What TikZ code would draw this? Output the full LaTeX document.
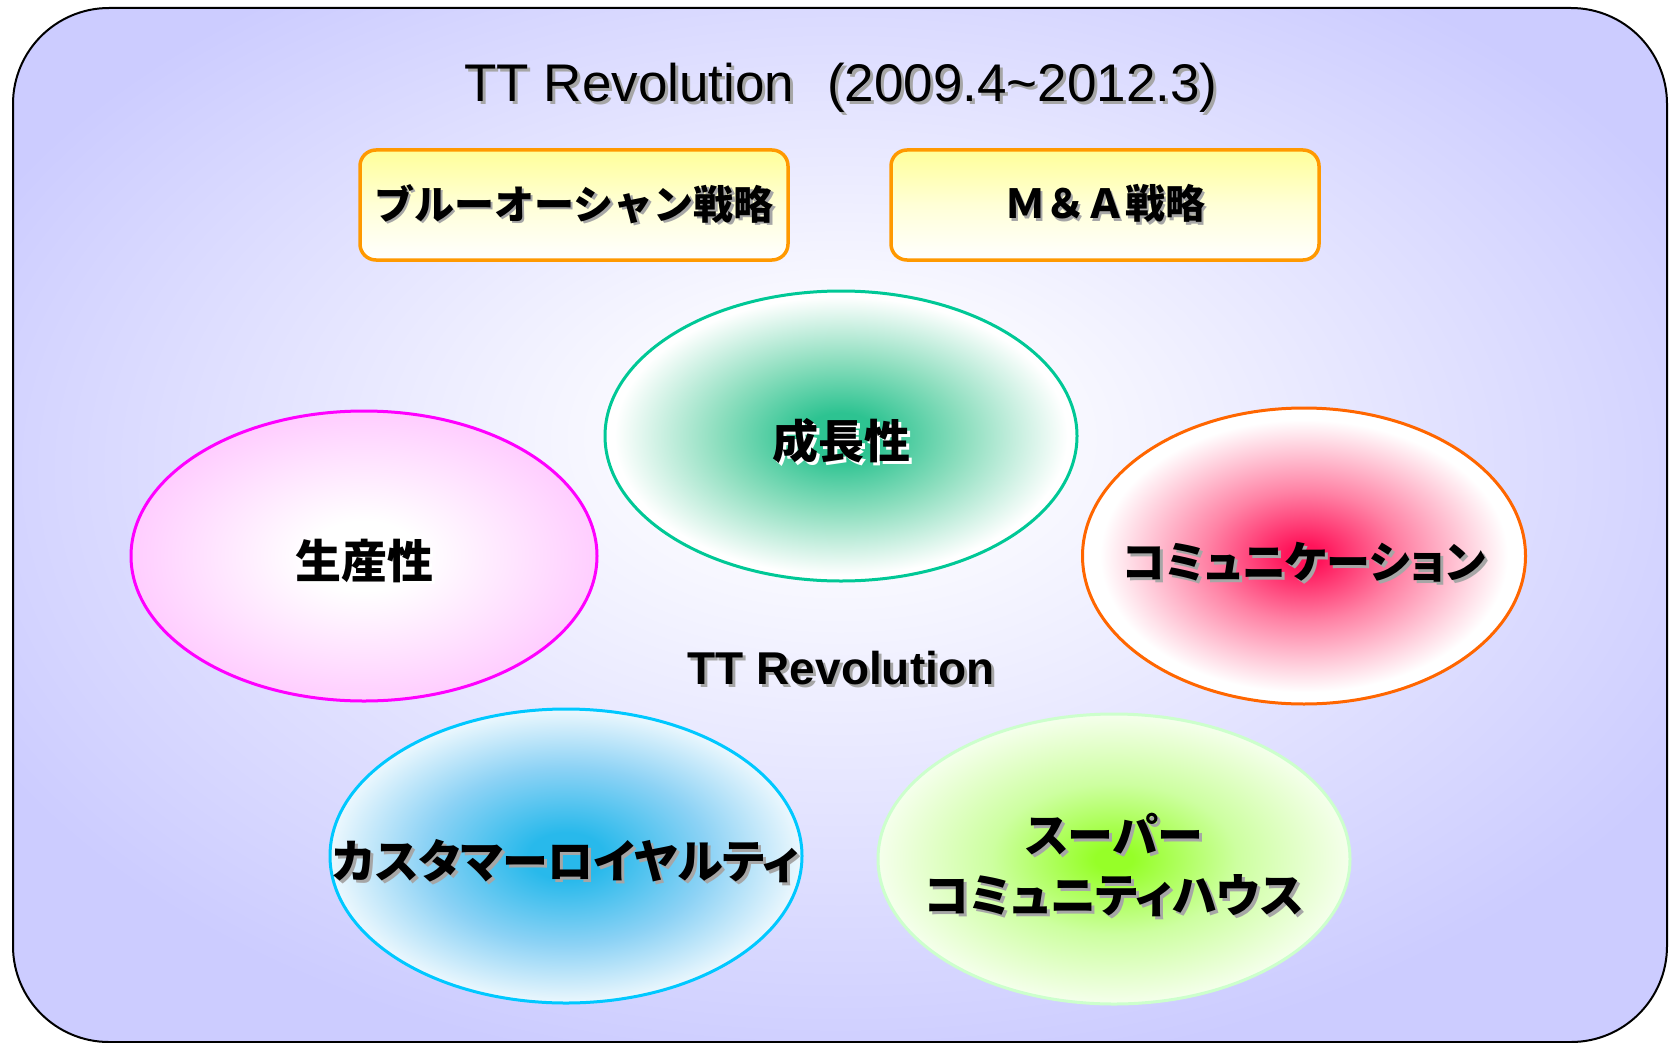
\documentclass[tikz,border=0pt]{standalone}
\usepackage{fontspec}
\setmainfont{Liberation Sans}
\newfontfamily\jp{Noto Sans CJK JP}
\newfontfamily\jpp{Noto Sans CJK JP}[RawFeature=+palt]
\usetikzlibrary{shapes.geometric}

\definecolor{lav}{RGB}{204,204,255}
\definecolor{bgc}{RGB}{250,250,255}
\definecolor{bgm}{RGB}{232,232,255}
\definecolor{teal1}{RGB}{45,195,145}
\definecolor{teal2}{RGB}{140,222,190}
\definecolor{tealb}{RGB}{0,200,150}
\definecolor{pink1}{RGB}{255,200,255}
\definecolor{magb}{RGB}{255,0,255}
\definecolor{red1}{RGB}{255,20,90}
\definecolor{red2}{RGB}{255,130,165}
\definecolor{orb}{RGB}{255,102,0}
\definecolor{blue1}{RGB}{40,185,235}
\definecolor{blue2}{RGB}{140,210,245}
\definecolor{cyb}{RGB}{0,200,255}
\definecolor{grn1}{RGB}{150,255,40}
\definecolor{grn2}{RGB}{205,255,160}
\definecolor{grnb}{RGB}{204,255,204}
\definecolor{boxb}{RGB}{255,153,0}
\definecolor{boxy}{RGB}{255,255,153}
\definecolor{boxm}{RGB}{255,255,215}

\pgfdeclareradialshading{bgshade}{\pgfpoint{0bp}{5bp}}{color(0bp)=(bgc); color(6bp)=(bgc); color(15bp)=(bgm); color(29bp)=(lav); color(50bp)=(lav)}
\pgfdeclareradialshading{tealsh}{\pgfpoint{0bp}{0bp}}{color(0bp)=(teal1); color(4bp)=(teal1); color(13bp)=(teal2); color(24bp)=(white); color(50bp)=(white)}
\pgfdeclareradialshading{pinksh}{\pgfpoint{0bp}{0bp}}{color(0bp)=(white); color(6bp)=(white); color(27bp)=(pink1); color(50bp)=(pink1)}
\pgfdeclareradialshading{redsh}{\pgfpoint{0bp}{0bp}}{color(0bp)=(red1); color(2bp)=(red1); color(11bp)=(red2); color(23bp)=(white); color(50bp)=(white)}
\pgfdeclareradialshading{bluesh}{\pgfpoint{0bp}{0bp}}{color(0bp)=(blue1); color(4bp)=(blue1); color(15bp)=(blue2); color(27bp)=(white); color(50bp)=(white)}
\pgfdeclareradialshading{grnsh}{\pgfpoint{0bp}{0bp}}{color(0bp)=(grn1); color(2bp)=(grn1); color(13bp)=(grn2); color(28bp)=(white); color(50bp)=(white)}

\newcommand{\shtext}[3][black!35]{\makebox[0pt][l]{\hspace*{#2}\raisebox{-#2}{\color{#1}#3}}#3}
\newcommand{\fixw}[1]{\makebox[0pt]{#1}}

\tikzset{
  bubble/.style={ellipse, shade, draw, line width=3pt, inner sep=0pt,
    minimum width=472pt, minimum height=290pt, text height=45pt, text depth=0pt,
    font=\jpp\bfseries\fontsize{46}{56}\selectfont},
  strat/.style={rectangle, rounded corners=16pt, draw=boxb, line width=3.5pt,
    top color=boxy, bottom color=white, middle color=boxm,
    minimum width=428pt, minimum height=110pt, inner sep=0pt,
    font=\jp\bfseries\fontsize{40}{48}\selectfont}
}

\begin{document}
\begin{tikzpicture}[x=1pt,y=-1pt]
\useasboundingbox (0,0) rectangle (1677,1043);
\shade[shading=bgshade, draw=black, line width=2pt, rounded corners=96pt] (13,8) rectangle (1667,1042);

\node (title) at (841,89) {\fontsize{53}{60}\selectfont\shtext{3pt}{TT Revolution\hspace{0.62em}(2009.4\textasciitilde2012.3)}};

\node[strat] (blue) at (574,205) {\shtext{2.5pt}{ブルーオーシャン戦略}};
\node[strat] (ma) at (1105,205) {\shtext{2.5pt}{Ｍ＆Ａ戦略}};

\node[bubble, shading=tealsh, draw=tealb] (growth) at (841,436) {\fixw{\shtext[white]{3pt}{成長性}}};
\node[bubble, shading=pinksh, draw=magb, minimum width=466pt] (prod) at (364,556) {\fixw{\shtext[white]{3pt}{生産性}}};
\node[bubble, shading=redsh, draw=orb, minimum width=443pt, minimum height=296pt] (comm) at (1304,556) {\fixw{\fontsize{44}{54}\selectfont\shtext{3pt}{コミュニケーション}}};
\node[bubble, shading=bluesh, draw=cyb, minimum height=294pt] (loyal) at (566,856) {\fixw{\shtext{3pt}{カスタマーロイヤルティ}}};
\node[bubble, shading=grnsh, draw=grnb, minimum height=290pt, text height=78pt, text depth=42pt] (house) at (1114,859) {\fixw{\begin{tabular}{@{}c@{}}\shtext{3pt}{スーパー}\\[4pt]\shtext{3pt}{コミュニティハウス}\end{tabular}}};

\node[font=\bfseries\fontsize{46}{54}\selectfont] (center) at (841,670) {\shtext{3pt}{TT Revolution}};
\end{tikzpicture}
\end{document}
